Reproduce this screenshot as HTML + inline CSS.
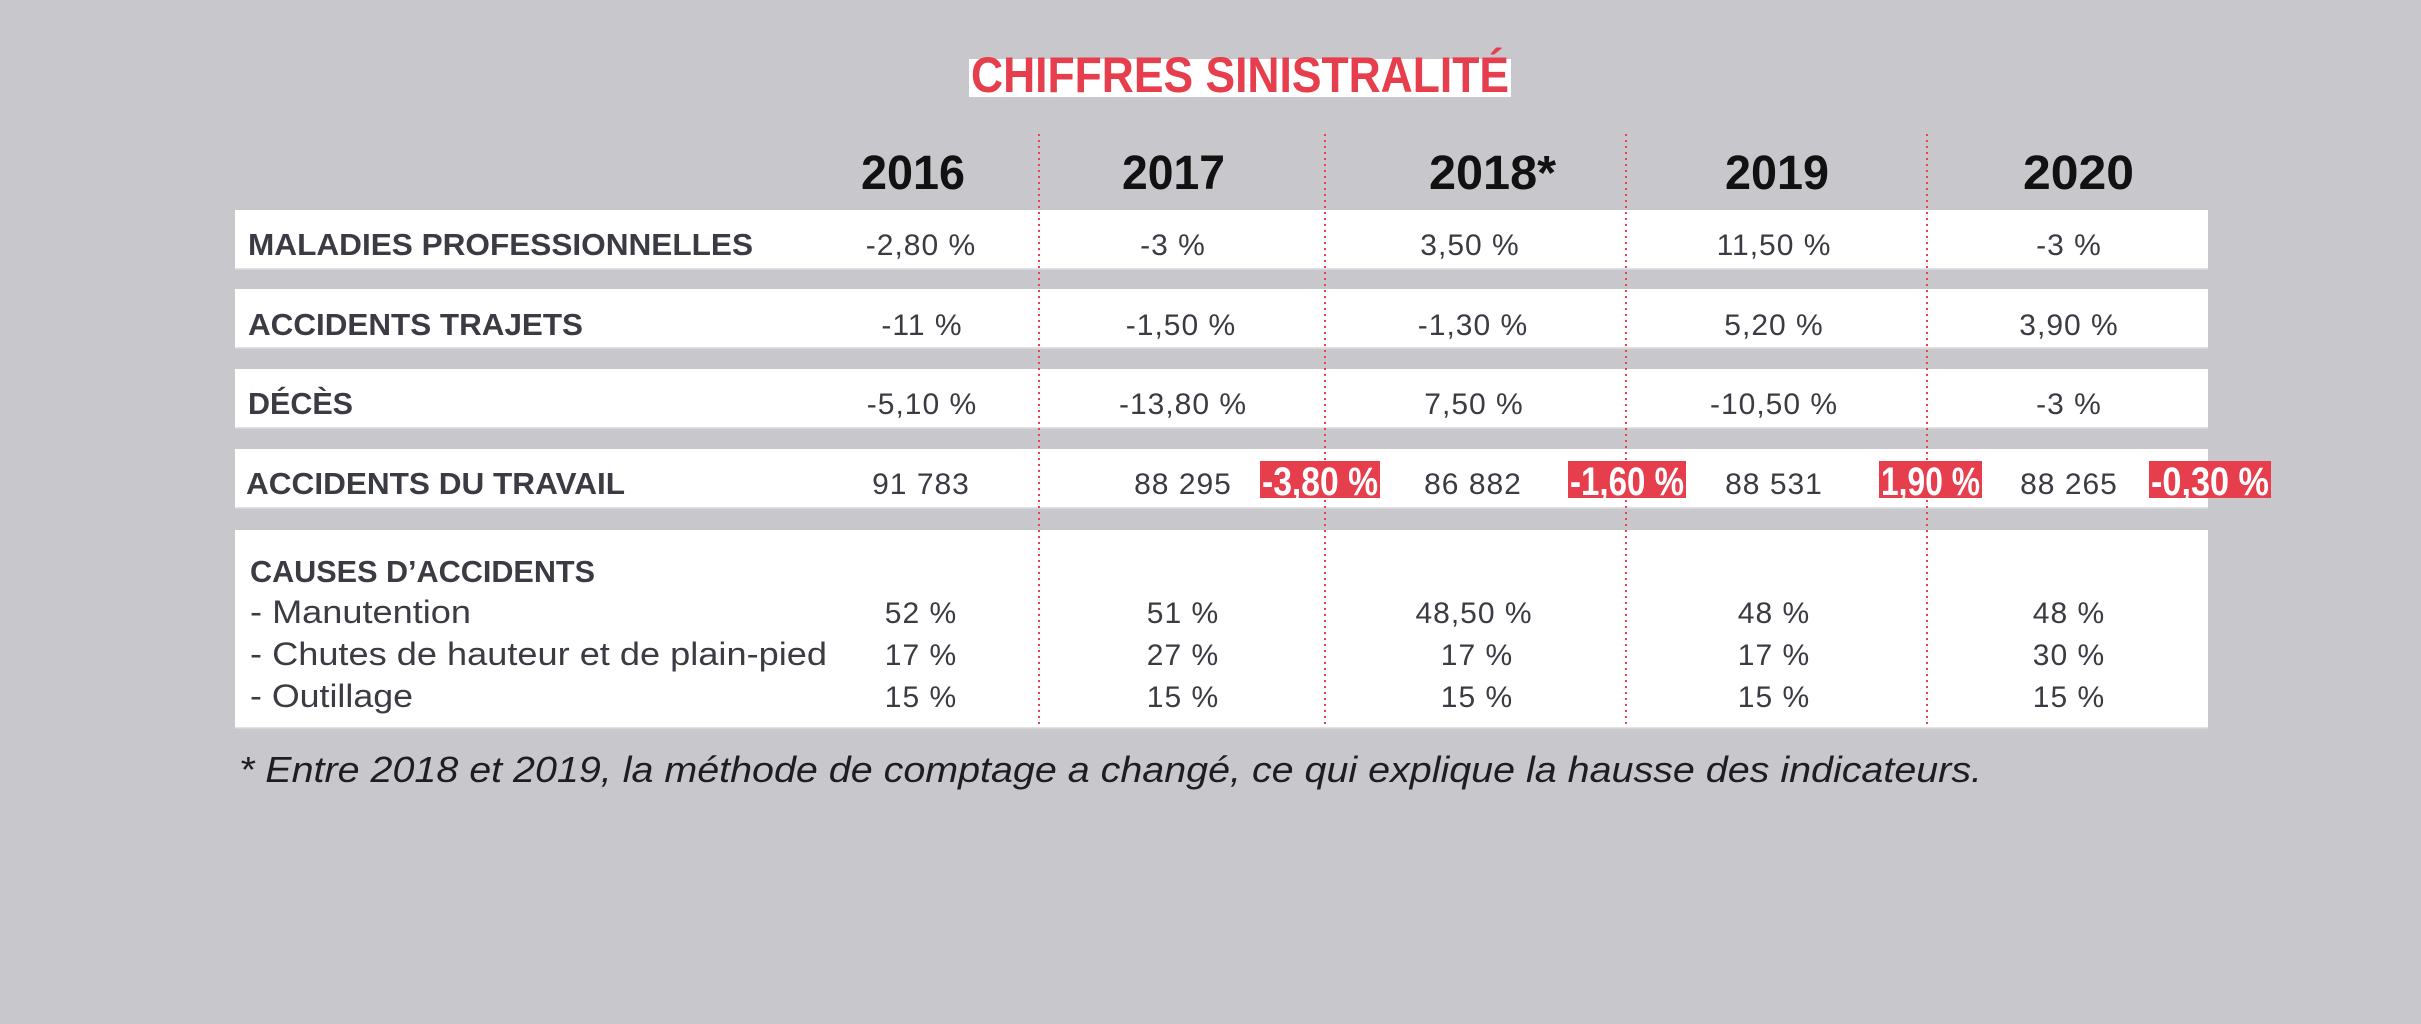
<!DOCTYPE html>
<html>
<head>
<meta charset="utf-8">
<style>
html,body{margin:0;padding:0;background:#c8c7cc;}
svg{display:block;}
text{font-family:"Liberation Sans",Arial,sans-serif;}
</style>
</head>
<body>
<svg xmlns="http://www.w3.org/2000/svg" width="2421" height="1024" viewBox="0 0 2421 1024">
  <rect x="0" y="0" width="2421" height="1024" fill="#c8c7cc"/>

  <!-- Title -->
  <rect x="969" y="59" width="542" height="38" fill="#ffffff"/>
  <text x="971" y="92" font-size="50" font-weight="bold" fill="#e63e4c" textLength="538" lengthAdjust="spacingAndGlyphs">CHIFFRES SINISTRALITÉ</text>

  <!-- Year headers -->
  <g font-size="48" font-weight="bold" fill="#111111">
    <text x="861" y="189" textLength="104" lengthAdjust="spacingAndGlyphs">2016</text>
    <text x="1122" y="189" textLength="103" lengthAdjust="spacingAndGlyphs">2017</text>
    <text x="1429" y="189" textLength="127" lengthAdjust="spacingAndGlyphs">2018*</text>
    <text x="1725" y="189" textLength="104" lengthAdjust="spacingAndGlyphs">2019</text>
    <text x="2023" y="189" textLength="111" lengthAdjust="spacingAndGlyphs">2020</text>
  </g>

  <!-- White rows -->
  <g fill="#ffffff">
    <rect x="235" y="210" width="1973" height="59"/>
    <rect x="235" y="289" width="1973" height="59"/>
    <rect x="235" y="369" width="1973" height="59"/>
    <rect x="235" y="449" width="1973" height="59"/>
    <rect x="235" y="530" width="1973" height="198"/>
  </g>
  <g fill="#e2e2e5">
    <rect x="235" y="268" width="1973" height="1.5"/>
    <rect x="235" y="347" width="1973" height="1.5"/>
    <rect x="235" y="427" width="1973" height="1.5"/>
    <rect x="235" y="507" width="1973" height="1.5"/>
    <rect x="235" y="727" width="1973" height="1.5"/>
  </g>

  <!-- Dotted separators -->
  <g stroke="#e8424e" stroke-width="2" stroke-dasharray="2 4">
    <line x1="1039" y1="134" x2="1039" y2="728"/>
    <line x1="1325" y1="134" x2="1325" y2="728"/>
    <line x1="1626" y1="134" x2="1626" y2="728"/>
    <line x1="1927" y1="134" x2="1927" y2="728"/>
  </g>

  <!-- Row labels -->
  <g font-size="31" font-weight="bold" fill="#3b3b43">
    <text x="248" y="255" textLength="505" lengthAdjust="spacingAndGlyphs">MALADIES PROFESSIONNELLES</text>
    <text x="248" y="335" textLength="335" lengthAdjust="spacingAndGlyphs">ACCIDENTS TRAJETS</text>
    <text x="248" y="414" textLength="105" lengthAdjust="spacingAndGlyphs">DÉCÈS</text>
    <text x="246" y="494" textLength="379" lengthAdjust="spacingAndGlyphs">ACCIDENTS DU TRAVAIL</text>
    <text x="250" y="582" textLength="345" lengthAdjust="spacingAndGlyphs">CAUSES D’ACCIDENTS</text>
  </g>
  <g font-size="32" fill="#3b3b43">
    <text x="250" y="623" textLength="221" lengthAdjust="spacingAndGlyphs">- Manutention</text>
    <text x="250" y="665" textLength="577" lengthAdjust="spacingAndGlyphs">- Chutes de hauteur et de plain-pied</text>
    <text x="250" y="707" textLength="163" lengthAdjust="spacingAndGlyphs">- Outillage</text>
  </g>

  <!-- Values -->
  <g font-size="30" fill="#3b3b43" text-anchor="middle" letter-spacing="1">
    <!-- row 1 -->
    <text x="921" y="255">-2,80 %</text>
    <text x="1173" y="255">-3 %</text>
    <text x="1470" y="255">3,50 %</text>
    <text x="1774" y="255">11,50 %</text>
    <text x="2069" y="255">-3 %</text>
    <!-- row 2 -->
    <text x="922" y="335">-11 %</text>
    <text x="1181" y="335">-1,50 %</text>
    <text x="1473" y="335">-1,30 %</text>
    <text x="1774" y="335">5,20 %</text>
    <text x="2069" y="335">3,90 %</text>
    <!-- row 3 -->
    <text x="922" y="414">-5,10 %</text>
    <text x="1183" y="414">-13,80 %</text>
    <text x="1474" y="414">7,50 %</text>
    <text x="1774" y="414">-10,50 %</text>
    <text x="2069" y="414">-3 %</text>
    <!-- row 4 -->
    <text x="921" y="494">91 783</text>
    <text x="1183" y="494">88 295</text>
    <text x="1473" y="494">86 882</text>
    <text x="1774" y="494">88 531</text>
    <text x="2069" y="494">88 265</text>
    <!-- row 5 -->
    <text x="921" y="623">52 %</text>
    <text x="921" y="665">17 %</text>
    <text x="921" y="707">15 %</text>
    <text x="1183" y="623">51 %</text>
    <text x="1183" y="665">27 %</text>
    <text x="1183" y="707">15 %</text>
    <text x="1474" y="623">48,50 %</text>
    <text x="1477" y="665">17 %</text>
    <text x="1477" y="707">15 %</text>
    <text x="1774" y="623">48 %</text>
    <text x="1774" y="665">17 %</text>
    <text x="1774" y="707">15 %</text>
    <text x="2069" y="623">48 %</text>
    <text x="2069" y="665">30 %</text>
    <text x="2069" y="707">15 %</text>
  </g>

  <!-- Red badges -->
  <g fill="#e63e4c">
    <rect x="1260" y="461" width="120" height="37"/>
    <rect x="1568" y="461" width="118" height="37"/>
    <rect x="1879" y="461" width="103" height="37"/>
    <rect x="2149" y="461" width="122" height="37"/>
  </g>
  <g font-size="40" font-weight="bold" fill="#ffffff">
    <text x="1262" y="495" textLength="116" lengthAdjust="spacingAndGlyphs">-3,80 %</text>
    <text x="1570" y="495" textLength="114" lengthAdjust="spacingAndGlyphs">-1,60 %</text>
    <text x="1881" y="495" textLength="99" lengthAdjust="spacingAndGlyphs">1,90 %</text>
    <text x="2151" y="495" textLength="118" lengthAdjust="spacingAndGlyphs">-0,30 %</text>
  </g>

  <!-- Footnote -->
  <text x="239" y="782" font-size="36" font-style="italic" fill="#1e1e22" textLength="1743" lengthAdjust="spacingAndGlyphs">* Entre 2018 et 2019, la méthode de comptage a changé, ce qui explique la hausse des indicateurs.</text>
</svg>
</body>
</html>
